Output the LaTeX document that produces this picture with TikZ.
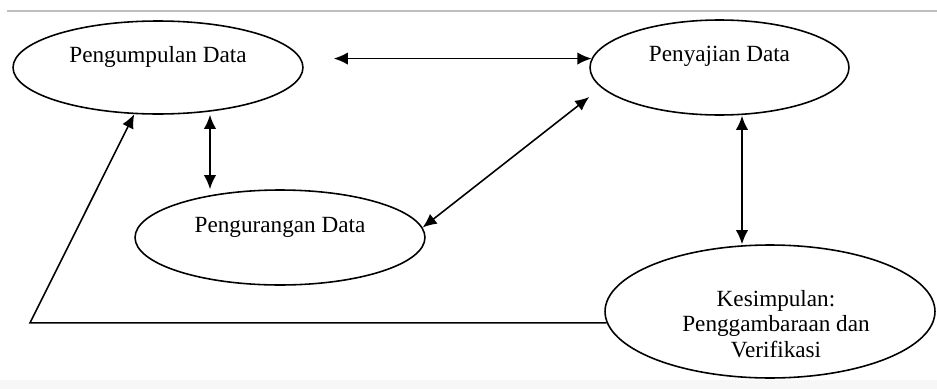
\documentclass[tikz,border=0pt]{standalone}
\usepackage{fontspec}
\setmainfont{Liberation Serif}
\usetikzlibrary{shapes.geometric,arrows.meta}

\tikzset{>={Latex[length=8pt,width=7pt]}}
\tikzset{
	oval/.style={ellipse, draw, line width=0.9pt, inner sep=0pt},
	lbl/.style={font=\fontsize{13.2}{14.5}\selectfont, align=center, inner sep=0pt},
	link/.style={<->, line width=0.9pt}
}

\begin{document}
\begin{tikzpicture}[x=0.02cm, y=-0.02cm]

			\useasboundingbox (0,0) rectangle (937,389);
			\fill[black!3] (0,380) rectangle (937,389);
			\draw[black!25, line width=1.2pt] (7,11) -- (937,11);

			\node[oval, minimum width=5.8cm, minimum height=1.86cm] (kumpul) at (158,67.5) {};
			\node[oval, minimum width=5.18cm, minimum height=1.9cm] (saji) at (719.5,67.5) {};
			\node[oval, minimum width=5.8cm, minimum height=1.9cm] (kurang) at (280,237.5) {};
			\node[oval, minimum width=6.6cm, minimum height=2.66cm] (simpul) at (770,311.5) {};

			\node[lbl] (kumpulText) at ([yshift=0.21cm]kumpul.center) {Pengumpulan Data};
			\node[lbl] (sajiText) at ([yshift=0.23cm]saji.center) {Penyajian Data};
			\node[lbl] (kurangText) at ([yshift=0.21cm]kurang.center) {Pengurangan Data};
			\node[lbl] (simpulText) at ([shift={(0.12cm,-0.25cm)}]simpul.center) {Kesimpulan:\\Penggambaraan dan\\Verifikasi};

			\coordinate (sudut) at (30,322);

			\draw[link] ([xshift=0.6cm]kumpul.east |- saji.176) -- (saji.176);
			\draw[link] ([xshift=1.04cm]kumpul.south) -- ([xshift=1.04cm]kumpul.south |- kurang.north);
			\draw[link] (kurang.4) -- ([yshift=-0.59cm]saji.west);
			\draw[link] ([xshift=0.45cm]saji.south) -- ([xshift=0.45cm]saji.south |- simpul.north);
			\draw[->, line width=0.9pt] (simpul.184) -- (sudut |- simpul.184) -- (kumpul.243);

\end{tikzpicture}
\end{document}
